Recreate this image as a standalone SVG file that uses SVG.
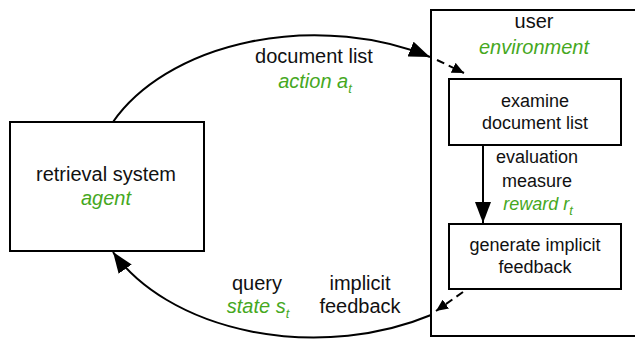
<svg xmlns="http://www.w3.org/2000/svg" width="635" height="339" viewBox="0 0 635 339">
<style>
text{font-family:"Liberation Sans",Arial,Helvetica,sans-serif;fill:#111;text-anchor:middle}
.l{font-size:20px}
.s{font-size:18px}
.g{fill:#46a81e;font-style:italic}
.sub{font-size:13px}
.box{fill:#fff;stroke:#000;stroke-width:2}
.edge{fill:none;stroke:#000;stroke-width:2}
.dash{fill:none;stroke:#000;stroke-width:2;stroke-dasharray:8 5}
</style>
<defs>
<marker id="ah" markerUnits="userSpaceOnUse" markerWidth="22" markerHeight="16" refX="21" refY="8" orient="auto" viewBox="0 0 22 16">
<path d="M0,0 L21,8 L0,16 z" fill="#000"/>
</marker>
<marker id="ahs" markerUnits="userSpaceOnUse" markerWidth="13" markerHeight="11" refX="12" refY="5.5" orient="auto" viewBox="0 0 13 11">
<path d="M0,0 L12,5.5 L0,11 z" fill="#000"/>
</marker>
</defs>
<g id="user">
<rect class="box" x="431" y="10" width="220" height="326"/>
<text class="l" x="534" y="28">user</text>
<text class="l g" x="534" y="54">environment</text>
</g>
<g id="agent">
<rect class="box" x="10" y="122" width="194" height="129"/>
<text class="l" x="106" y="181">retrieval system</text>
<text class="l g" x="106" y="205">agent</text>
</g>
<g id="examine">
<rect class="box" x="449" y="79" width="172" height="66"/>
<text class="s" x="535" y="107">examine</text>
<text class="s" x="535" y="129">document list</text>
</g>
<g id="generate">
<rect class="box" x="449" y="224" width="172" height="65"/>
<text class="s" x="535" y="251">generate implicit</text>
<text class="s" x="535" y="273">feedback</text>
</g>
<g id="connectors">
<path class="edge" d="M113,122 A223,151 0 0 1 430,57" marker-end="url(#ah)"/>
<path class="dash" d="M437,60 L464,73" marker-end="url(#ahs)"/>
<path class="edge" d="M483,145 L483,223" marker-end="url(#ah)"/>
<path class="dash" d="M463,292 L436,311" marker-end="url(#ahs)"/>
<path class="edge" d="M431,315 A223,151 0 0 1 113,252" marker-end="url(#ah)"/>
<text class="l" x="314" y="63">document list</text>
<text class="l g" x="315" y="88">action a<tspan class="sub" dy="5">t</tspan></text>
<text class="s" x="537" y="163">evaluation</text>
<text class="s" x="537" y="187">measure</text>
<text class="s g" x="538" y="210">reward r<tspan class="sub" dy="5">t</tspan></text>
<text class="l" x="257" y="290">query</text>
<text class="l g" x="258" y="313">state s<tspan class="sub" dy="5">t</tspan></text>
<text class="l" x="360" y="290">implicit</text>
<text class="l" x="360" y="313">feedback</text>
</g>
</svg>
